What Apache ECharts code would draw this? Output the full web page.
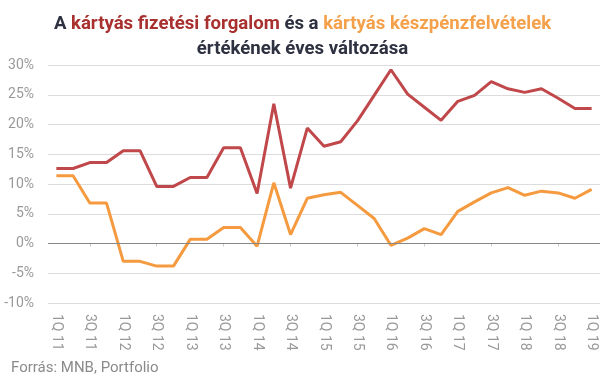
<!DOCTYPE html>
<html><head><meta charset="utf-8">
<script src="https://cdn.jsdelivr.net/npm/echarts@6/dist/echarts.min.js"></script>
<style>html,body{margin:0;padding:0;background:#fff}#c{width:605px;height:379px}</style>
</head><body><div id="c"></div>
<script>
var quarters = ['1Q 11','2Q 11','3Q 11','4Q 11','1Q 12','2Q 12','3Q 12','4Q 12','1Q 13','2Q 13','3Q 13','4Q 13','1Q 14','2Q 14','3Q 14','4Q 14','1Q 15','2Q 15','3Q 15','4Q 15','1Q 16','2Q 16','3Q 16','4Q 16','1Q 17','2Q 17','3Q 17','4Q 17','1Q 18','2Q 18','3Q 18','4Q 18','1Q 19'];
var kartyasForgalom = [12.6,12.6,13.6,13.6,15.6,15.6,9.6,9.6,11.1,11.1,16.1,16.1,8.4,23.5,9.3,19.4,16.35,17.1,20.6,24.9,29.2,25.1,22.9,20.7,23.9,24.9,27.2,26.0,25.4,26.0,24.4,22.7,22.7];
var keszpenzfelvetel = [11.4,11.4,6.8,6.8,-3.0,-3.0,-3.8,-3.8,0.7,0.7,2.7,2.7,-0.45,10.2,1.5,7.6,8.2,8.6,6.4,4.2,-0.3,0.9,2.5,1.5,5.4,7.0,8.5,9.4,8.1,8.8,8.5,7.6,9.1];

var chart = echarts.init(document.getElementById('c'));
var tf = {fontFamily:'Roboto',fontWeight:'bold',fontSize:18.6,lineHeight:25};
chart.setOption({
  animation:false,
  title:{
    left:'center', top:7,
    text:'{d|A }{r|kártyás fizetési forgalom}{d| és a }{o|kártyás készpénzfelvételek}\n{d|értékének éves változása}',
    textStyle:{
      rich:{
        d:Object.assign({color:'#2e3140'},tf),
        r:Object.assign({color:'#a8302e'},tf),
        o:Object.assign({color:'#f5a04a'},tf)
      }
    }
  },
  graphic:[{type:'text',left:11,top:361,style:{text:'Forrás: MNB, Portfolio',fill:'#8a8a8a',font:'15px Roboto'}}],
  grid:{left:48,right:5,top:65,bottom:76},
  xAxis:{
    type:'category', data:quarters, boundaryGap:true,
    axisLine:{show:false},
    axisTick:{show:true,alignWithLabel:true,interval:function(i){return i%4===2;},length:3,lineStyle:{color:'#ccc'}},
    axisLabel:{rotate:-90,interval:1,color:'#999',fontFamily:'Roboto',fontSize:14,margin:11},
    splitLine:{show:false}
  },
  yAxis:{
    type:'value', min:-10, max:30, interval:5,
    axisLine:{show:false}, axisTick:{show:false},
    axisLabel:{formatter:'{value}%',color:'#999',fontFamily:'Roboto',fontSize:14,margin:14},
    splitLine:{lineStyle:{color:'#dcdcdc',width:1}}
  },
  series:[
    {type:'line',data:kartyasForgalom,symbol:'none',lineStyle:{color:'#c0474a',width:3},itemStyle:{color:'#c0474a'},
     markLine:{silent:true,symbol:'none',label:{show:false},lineStyle:{color:'#888',width:1,type:'solid'},data:[{yAxis:0}]}},
    {type:'line',data:keszpenzfelvetel,symbol:'none',lineStyle:{color:'#f59a3e',width:3},itemStyle:{color:'#f59a3e'}}
  ]
});
</script>
</body></html>
